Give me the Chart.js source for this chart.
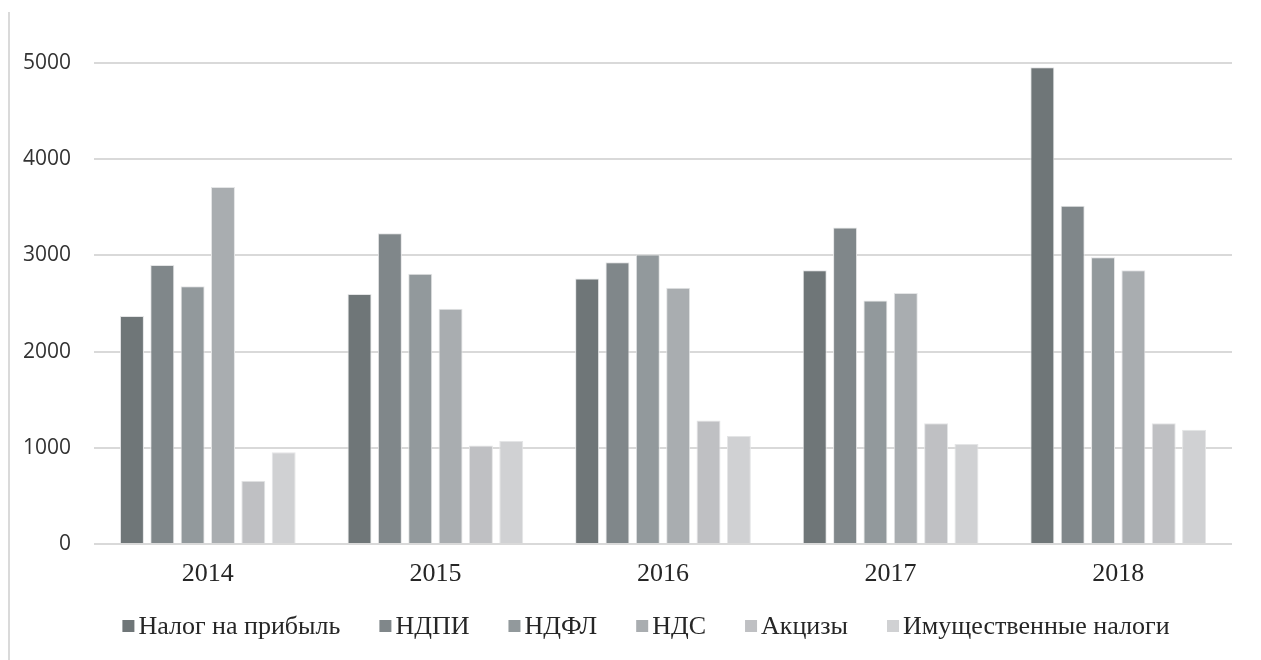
<!DOCTYPE html>
<html lang="ru">
<head>
<meta charset="utf-8">
<title>Налоговые поступления 2014–2018</title>
<script src="https://cdn.jsdelivr.net/npm/chart.js@4.4.1/dist/chart.umd.min.js"></script>
<style>
  html, body { margin: 0; padding: 0; background: #ffffff; }
  #wrap { position: relative; width: 1261px; height: 660px; }
  #edge { position: absolute; left: 8px; top: 12px; width: 2px; height: 648px; background: #dadada; }
  canvas { position: absolute; left: 0; top: 0; }
</style>
</head>
<body>
<div id="wrap">
  <div id="edge"></div>
  <canvas id="chart" width="1261" height="660"></canvas>
</div>
<script>
// Years on the category axis
const years = ['2014', '2015', '2016', '2017', '2018'];

// Tax revenue series, one value per year
const profitTax   = [2370, 2600, 2760, 2845, 4955];
const mineralTax  = [2900, 3230, 2930, 3290, 3515];
const incomeTax   = [2680, 2810, 3010, 2530, 2980];
const vat         = [3710, 2445, 2665, 2610, 2845];
const excises     = [658, 1025, 1285, 1255, 1255];
const propertyTax = [955, 1070, 1122, 1040, 1188];

// Series names shown in the legend
const seriesNames = ['Налог на прибыль', 'НДПИ', 'НДФЛ', 'НДС', 'Акцизы', 'Имущественные налоги'];

// Value axis ticks
const yTicks = [0, 1000, 2000, 3000, 4000, 5000];

const seriesValues = [profitTax, mineralTax, incomeTax, vat, excises, propertyTax];
const seriesColors = ['#6f7678', '#80878a', '#92999c', '#a9adb0', '#bfc0c3', '#d0d1d3'];

const datasets = seriesNames.map((name, i) => ({
  label: name,
  data: seriesValues[i],
  backgroundColor: seriesColors[i],
  borderColor: '#e4e5e6',
  borderWidth: 1,
  categoryPercentage: 0.8,
  barPercentage: 0.79
}));

// Legend drawn under the axis: small square swatch followed by the series name
const bottomLegend = {
  id: 'bottomLegend',
  afterDraw(chart) {
    const ctx = chart.ctx;
    const box = 12, gapText = 4, gapItem = 39;
    ctx.save();
    ctx.font = '26px "Liberation Serif", "Times New Roman", serif';
    ctx.textBaseline = 'middle';
    ctx.textAlign = 'left';
    const widths = chart.data.datasets.map(d => ctx.measureText(d.label).width);
    const total = widths.reduce((a, w) => a + box + gapText + w, 0) + gapItem * (widths.length - 1);
    let x = 646 - total / 2;
    const y = 626;
    chart.data.datasets.forEach((d, i) => {
      ctx.fillStyle = d.backgroundColor;
      ctx.fillRect(x, y - box / 2, box, box);
      ctx.fillStyle = '#262626';
      ctx.fillText(d.label, x + box + gapText, y + 1);
      x += box + gapText + widths[i] + gapItem;
    });
    ctx.restore();
  }
};

new Chart(document.getElementById('chart'), {
  type: 'bar',
  data: { labels: years, datasets },
  plugins: [bottomLegend],
  options: {
    responsive: false,
    animation: false,
    layout: { padding: { top: 63, left: 0, right: 29, bottom: 56 } },
    plugins: {
      legend: { display: false },
      tooltip: { enabled: false }
    },
    scales: {
      x: {
        grid: { display: false, drawTicks: false },
        border: { display: false },
        ticks: {
          color: '#262626',
          padding: 15,
          font: { family: '"Liberation Serif", "Times New Roman", serif', size: 26 }
        },
        afterFit(scale) { scale.height = 60; }
      },
      y: {
        min: 0,
        max: 5000,
        afterBuildTicks(scale) { scale.ticks = yTicks.map(v => ({ value: v })); },
        grid: { color: '#d9d9d9', lineWidth: 2, drawTicks: false },
        border: { display: false },
        ticks: {
          color: '#333333',
          padding: 23,
          font: { family: '"Open Sans", sans-serif', size: 21 },
          callback: v => String(v)
        },
        afterFit(scale) { scale.width = 94; }
      }
    }
  }
});
</script>
</body>
</html>
